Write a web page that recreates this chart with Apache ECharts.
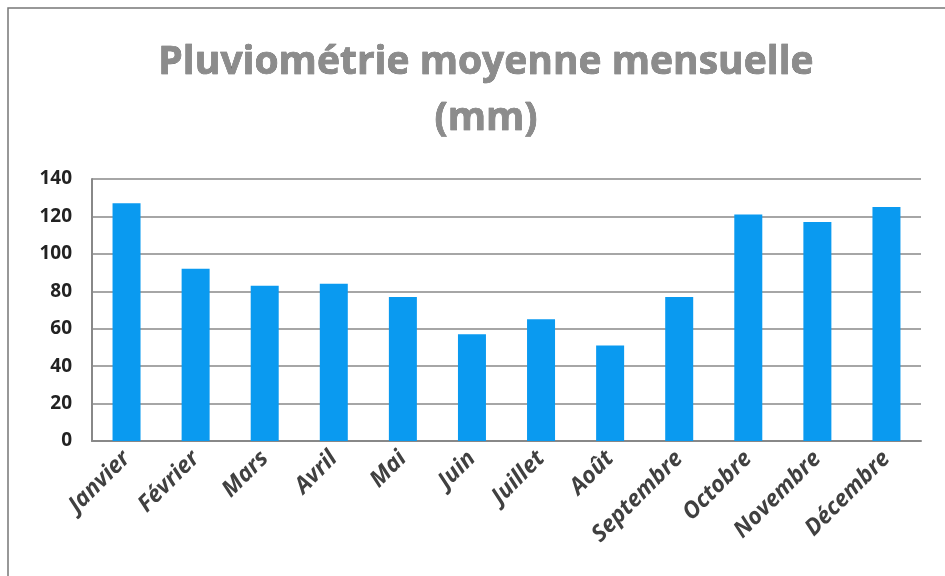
<!DOCTYPE html>
<html>
<head>
<meta charset="utf-8">
<script src="https://cdn.jsdelivr.net/npm/echarts@6/dist/echarts.min.js"></script>
<style>
  html, body { margin: 0; padding: 0; background: #fff; }
  #chart { width: 945px; height: 576px; }
</style>
</head>
<body>
<div id="chart"></div>
<script>
// mois
const months = ['Janvier', 'Février', 'Mars', 'Avril', 'Mai', 'Juin', 'Juillet', 'Août', 'Septembre', 'Octobre', 'Novembre', 'Décembre']
// pluviométrie (mm)
const rainfall = [127, 92, 83, 84, 77, 57, 65, 51, 77, 121, 117, 125]

const myChart = echarts.init(document.getElementById('chart'))

const option = {
  backgroundColor: '#fff',
  animation: false,
  title: {
    text: 'Pluviométrie moyenne mensuelle\n(mm)',
    left: 481,
    top: 30,
    textAlign: 'center',
    textStyle: {
      color: '#8c8c8c',
      fontFamily: 'Open Sans',
      fontWeight: 'bold',
      fontSize: 39,
      lineHeight: 56,
      textBorderColor: '#555',
      textBorderWidth: 0.6
    }
  },
  graphic: [
    {
      type: 'polyline',
      shape: { points: [[8, 576], [8, 8], [945, 8]] },
      style: { stroke: '#777', lineWidth: 1.5, fill: null }
    }
  ],
  grid: {
    left: 92,
    right: 24,
    top: 179,
    bottom: 135
  },
  xAxis: {
    type: 'category',
    data: months,
    axisTick: { show: false },
    axisLine: { lineStyle: { color: '#888', width: 2 } },
    axisLabel: {
      rotate: 45,
      interval: 0,
      margin: 14,
      color: '#404040',
      fontFamily: 'Open Sans',
      fontWeight: 'bold',
      fontStyle: 'italic',
      fontSize: 23
    }
  },
  yAxis: {
    type: 'value',
    min: 0,
    max: 140,
    interval: 20,
    axisLine: { show: true, lineStyle: { color: '#888', width: 2 } },
    axisTick: { show: false },
    splitLine: { lineStyle: { color: '#a6a6a6', width: 2 } },
    axisLabel: {
      margin: 20,
      color: '#222',
      fontFamily: 'Open Sans',
      fontWeight: 'bold',
      fontSize: 19
    }
  },
  series: [
    {
      name: 'Pluviométrie',
      type: 'bar',
      data: rainfall,
      barWidth: 28,
      itemStyle: { color: '#0a9af0' }
    }
  ]
}

myChart.setOption(option)
</script>
</body>
</html>
